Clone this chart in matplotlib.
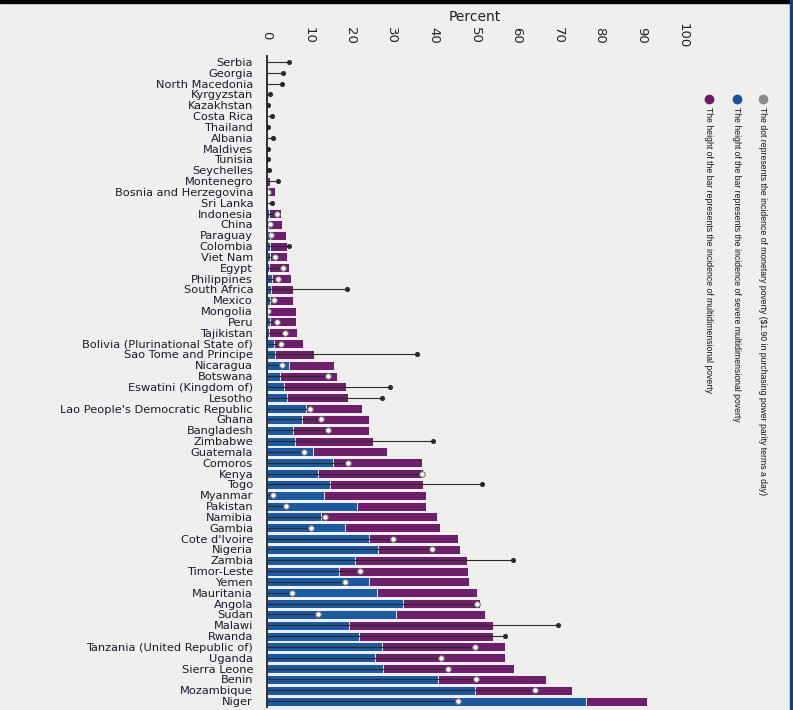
import numpy as np
import matplotlib
matplotlib.use("Agg")
import matplotlib.pyplot as plt
from matplotlib.lines import Line2D
from matplotlib.patches import Rectangle

countries = [
    "Serbia", "Georgia", "North Macedonia", "Kyrgyzstan", "Kazakhstan",
    "Costa Rica", "Thailand", "Albania", "Maldives", "Tunisia",
    "Seychelles", "Montenegro", "Bosnia and Herzegovina", "Sri Lanka",
    "Indonesia", "China", "Paraguay", "Colombia", "Viet Nam", "Egypt",
    "Philippines", "South Africa", "Mexico", "Mongolia", "Peru",
    "Tajikistan", "Bolivia (Plurinational State of)", "Sao Tome and Principe",
    "Nicaragua", "Botswana", "Eswatini (Kingdom of)", "Lesotho",
    "Lao People's Democratic Republic", "Ghana", "Bangladesh", "Zimbabwe",
    "Guatemala", "Comoros", "Kenya", "Togo", "Myanmar", "Pakistan",
    "Namibia", "Gambia", "Cote d'Ivoire", "Nigeria", "Zambia",
    "Timor-Leste", "Yemen", "Mauritania", "Angola", "Sudan", "Malawi",
    "Rwanda", "Tanzania (United Republic of)", "Uganda", "Sierra Leone",
    "Benin", "Mozambique", "Niger",
]

# incidence of multidimensional poverty (%)
mpi = [
    0.1, 0.1, 0.1, 0.1, 0.1, 0.1, 0.1, 0.3, 0.2, 0.2,
    0.3, 0.8, 1.9, 0.1, 3.3, 3.7, 4.5, 4.8, 4.9, 5.2,
    5.8, 6.3, 6.3, 6.9, 7.0, 7.2, 8.7, 11.3, 16.1, 16.9,
    19.0, 19.4, 22.9, 24.5, 24.5, 25.5, 28.8, 37.3, 37.4, 37.6,
    38.2, 38.2, 40.8, 41.6, 46.0, 46.5, 48.0, 48.3, 48.5, 50.6,
    51.2, 52.4, 54.4, 54.4, 57.2, 57.2, 59.4, 67.0, 73.4, 91.4,
]

# incidence of severe multidimensional poverty (%)
severe = [
    0.0, 0.0, 0.0, 0.0, 0.0, 0.0, 0.0, 0.1, 0.1, 0.1,
    0.1, 0.1, 0.2, 0.0, 0.4, 0.3, 0.8, 0.8, 0.7, 0.6,
    1.2, 0.9, 0.8, 0.3, 0.8, 0.4, 1.8, 2.0, 5.4, 3.1,
    4.2, 4.9, 9.4, 8.3, 6.3, 6.7, 11.0, 15.9, 12.3, 15.1,
    13.7, 21.6, 12.9, 18.8, 24.4, 26.8, 21.2, 17.4, 24.5, 26.4,
    32.6, 31.0, 19.8, 22.2, 27.6, 26.0, 28.0, 41.0, 50.1, 76.8,
]

# incidence of monetary poverty, $1.90 a day (%)
monetary = [
    5.3, 3.9, 3.5, 0.7, 0.2, 1.1, 0.3, 1.5, 0.3, 0.3,
    0.5, 2.7, 0.3, 1.1, 2.5, 0.7, 1.0, 5.3, 1.9, 3.8,
    2.7, 19.2, 1.7, 0.3, 2.4, 4.3, 3.4, 36.0, 3.5, 14.7,
    29.6, 27.6, 10.3, 13.0, 14.6, 39.8, 9.0, 19.4, 37.2, 51.8,
    1.4, 4.6, 13.9, 10.5, 30.2, 39.6, 59.2, 22.4, 18.8, 6.1,
    50.4, 12.3, 70.0, 57.2, 50.0, 41.8, 43.6, 50.2, 64.4, 46.0,
]

bg = "#efefed"
purple = "#6e1f6a"
blue = "#1c59a0"

fig = plt.figure(figsize=(7.93, 7.10), dpi=100, facecolor=bg)
ax = fig.add_axes([267 / 793, 1 - 706.5 / 710, (683 - 267) / 793, (706.5 - 56.5) / 710])
ax.set_facecolor(bg)

y = np.arange(len(countries))
mpi_a = np.array(mpi)
mon_a = np.array(monetary)

ax.barh(y, mpi, height=0.84, color=purple, edgecolor="white", linewidth=0.6, zorder=2)
ax.barh(y, severe, height=0.84, color=blue, edgecolor="white", linewidth=0.6, zorder=3)

# monetary poverty: line from 0 to dot
ax.hlines(y, 0, monetary, color="#2a2a2a", linewidth=0.8, zorder=4)
inside = mon_a < mpi_a
ax.scatter(mon_a[inside], y[inside], s=16, color="white", edgecolor="#777777",
           linewidth=0.8, zorder=5)
ax.scatter(mon_a[~inside], y[~inside], s=7, color="#2a2a2a", zorder=5)

ax.set_xlim(0, 100)
ax.set_ylim(len(countries) - 0.5, -0.5)
ax.set_yticks(y)
ax.set_yticklabels(countries, fontsize=8.2, color="#1a1a2e")
ax.set_xticks(range(0, 101, 10))
ax.xaxis.tick_top()
ax.tick_params(axis="x", length=0, pad=15, labelsize=9.5, labelcolor="#222222")
ax.tick_params(axis="y", length=0, pad=10)
for lab in ax.get_xticklabels():
    lab.set_rotation(270)
    lab.set_va("center")

for s in ["top", "right", "bottom"]:
    ax.spines[s].set_visible(False)
ax.spines["left"].set_color("#222222")
ax.spines["left"].set_linewidth(1.3)
ax.spines["left"].set_zorder(6)

fig.text(475 / 793, 1 - 17 / 710, "Percent", ha="center", va="center",
         fontsize=10, color="#222222")

# legend, rotated
legend_items = [
    (763, "#8c8c8c", "The dot represents the incidence of monetary poverty ($1.90 in purchasing power parity terms a day)"),
    (737, "#1a4f9a", "The height of the bar represents the incidence of severe multidimensional poverty"),
    (709, "#6c1a66", "The height of the bar represents the incidence of multidimensional poverty"),
]
for xpix, col, txt in legend_items:
    fx = xpix / 793
    fig.add_artist(Line2D([fx], [1 - 99 / 710], marker="o", markersize=6,
                          color=col, transform=fig.transFigure))
    fig.text(fx, 1 - 107 / 710, txt, rotation=270, ha="center", va="top",
             fontsize=6.2, color="#111111", family="Liberation Sans")

# frame bits of the screenshot
fig.add_artist(Rectangle((0, 1 - 3 / 710), 1, 3 / 710, transform=fig.transFigure,
                         color="black", zorder=10))
fig.add_artist(Rectangle((1 - 3 / 793, 0), 3 / 793, 1, transform=fig.transFigure,
                         color="#1c3f7a", zorder=10))

plt.savefig("out.png", dpi=100, facecolor=bg)
